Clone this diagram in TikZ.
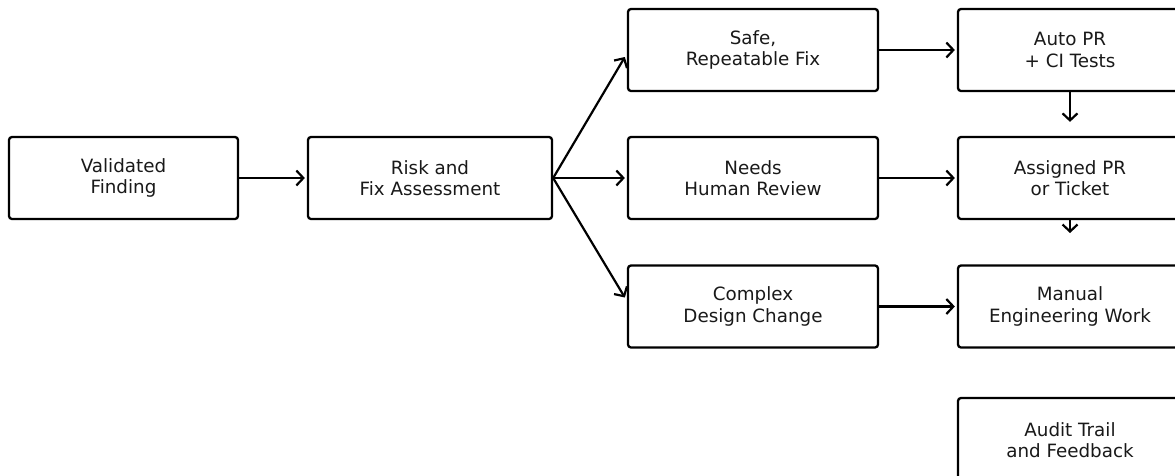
\documentclass[tikz,border=0pt]{standalone}
\usepackage{fontspec}
\setmainfont{DejaVu Sans}
\usetikzlibrary{arrows.meta}
\begin{document}
\begin{tikzpicture}[x=1pt,y=-1pt,
  box/.style={draw=black, line width=2.3pt, rounded corners=3pt, fill=white,
    minimum height=82pt, inner sep=0pt, align=center,
    font=\fontsize{18.3}{21.5}\selectfont, text=black!90},
  conn/.style={line width=2.2pt, -{Straight Barb[length=7pt,width=15pt,line width=2.2pt]}}]
\useasboundingbox (0,0) rectangle (1175,475);
\clip (0,0) rectangle (1175,475);
\fill[white] (0,0) rectangle (1175,475);
\node[box, minimum width=229pt] (vf) at (123.5,178) {Validated\\Finding};
\node[box, minimum width=244pt] (risk) at (430,178) {Risk and\\Fix Assessment};
\node[box, minimum width=250pt] (safe) at (753,50) {Safe,\\Repeatable Fix};
\node[box, minimum width=250pt] (needs) at (753,178) {Needs\\Human Review};
\node[box, minimum width=250pt] (complex) at (753,306.5) {Complex\\Design Change};
\node[box, minimum width=224pt] (auto) at (1070,50) {Auto PR\\+ CI Tests};
\node[box, minimum width=224pt] (assigned) at (1070,178) {Assigned PR\\or Ticket};
\node[box, minimum width=224pt] (manual) at (1070,306.5) {Manual\\Engineering Work};
\node[box, minimum width=224pt, minimum height=84pt] (audit) at (1070,440) {Audit Trail\\and Feedback};
\coordinate (stub) at (1070,233);
\draw[conn] (vf.east) -- ([xshift=-2pt]risk.west);
\draw[conn] (risk.east) -- ([xshift=-2pt,yshift=-7pt]safe.west);
\draw[conn] (risk.east) -- ([xshift=-2pt]needs.west);
\draw[conn] (risk.east) -- ([xshift=-2pt,yshift=9pt]complex.west);
\draw[conn] (safe.east) -- ([xshift=-2pt]auto.west);
\draw[conn] (needs.east) -- ([xshift=-2pt]assigned.west);
\draw[conn] (complex.east) -- ([xshift=-2pt]manual.west);
\draw[conn] (auto.south) -- ([yshift=14pt]assigned.north);
\draw[conn] (assigned.south) -- (stub);
\end{tikzpicture}
\end{document}
